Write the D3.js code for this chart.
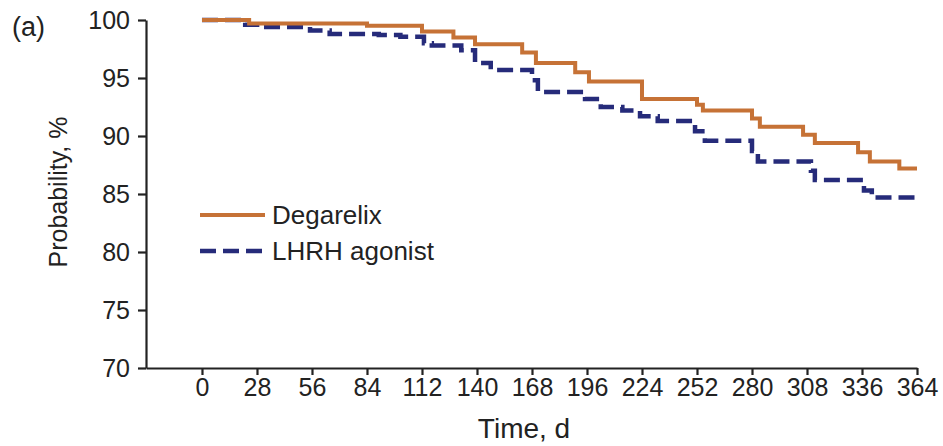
<!DOCTYPE html>
<html>
<head>
<meta charset="utf-8">
<script src="https://cdn.jsdelivr.net/npm/d3@7"></script>
<style>
  body { margin: 0; background: #fff; }
  text { font-family: "Liberation Sans", Arial, sans-serif; fill: #222; }
  .axis path, .axis line { stroke: #222; stroke-width: 2.2; }
  .axis text { font-size: 25px; fill: #222; }
</style>
</head>
<body>
<svg width="943" height="446"></svg>
<script>
// Kaplan-Meier style step data
var degDays = [0, 24, 84, 112, 128, 139, 163, 170, 190, 197, 224, 252, 255, 280, 284, 306, 312, 334, 340, 355, 364];
var degProb = [100, 99.7, 99.5, 99.0, 98.5, 97.9, 97.2, 96.3, 95.5, 94.7, 93.2, 92.7, 92.2, 91.5, 90.8, 90.1, 89.4, 88.6, 87.8, 87.2, 87.2];

var lhrhDays = [0, 22, 31, 55, 65, 90, 101, 113, 117, 132, 139, 147, 168, 171, 195, 203, 214, 223, 232, 251, 256, 280, 283, 310, 312, 337, 341, 364];
var lhrhProb = [100, 99.6, 99.4, 99.1, 98.8, 98.7, 98.55, 98.0, 97.8, 97.4, 96.3, 95.7, 94.8, 93.8, 93.2, 92.5, 92.2, 91.7, 91.3, 90.4, 89.6, 88.7, 87.8, 87.0, 86.2, 85.3, 84.7, 84.7];

var xTicks = [0, 28, 56, 84, 112, 140, 168, 196, 224, 252, 280, 308, 336, 364];
var yTicks = [70, 75, 80, 85, 90, 95, 100];

var seriesNames = ["Degarelix", "LHRH agonist"];
var seriesColors = ["#c67236", "#262b7a"];

var svg = d3.select("svg");

var x = d3.scaleLinear().domain([-28.5, 364]).range([146, 917]);
var y = d3.scaleLinear().domain([70, 100]).range([368, 20]);

svg.append("g")
  .attr("class", "axis")
  .attr("transform", "translate(0,368)")
  .call(d3.axisBottom(x).tickValues(xTicks).tickSize(7).tickSizeOuter(0).tickPadding(3));

svg.append("g")
  .attr("class", "axis")
  .attr("transform", "translate(146,0)")
  .call(d3.axisLeft(y).tickValues(yTicks).tickSize(8).tickSizeOuter(0).tickPadding(8));

svg.selectAll(".axis .domain").attr("stroke-width", 2.4);

var line = d3.line()
  .x(function(d) { return x(d[0]); })
  .y(function(d) { return y(d[1]); })
  .curve(d3.curveStepAfter);

var lhrh = d3.zip(lhrhDays, lhrhProb);
var deg = d3.zip(degDays, degProb);

svg.append("path")
  .datum(lhrh)
  .attr("d", line)
  .attr("fill", "none")
  .attr("stroke", seriesColors[1])
  .attr("stroke-width", 4.5)
  .attr("stroke-dasharray", "16,7");

svg.append("path")
  .datum(deg)
  .attr("d", line)
  .attr("fill", "none")
  .attr("stroke", seriesColors[0])
  .attr("stroke-width", 4);

// legend
svg.append("line")
  .attr("x1", 200).attr("x2", 265).attr("y1", 215).attr("y2", 215)
  .attr("stroke", seriesColors[0]).attr("stroke-width", 4);
svg.append("line")
  .attr("x1", 200).attr("x2", 265).attr("y1", 251).attr("y2", 251)
  .attr("stroke", seriesColors[1]).attr("stroke-width", 4.5)
  .attr("stroke-dasharray", "16,7");
svg.append("text")
  .attr("x", 272).attr("y", 224)
  .style("font-size", "26px")
  .text(seriesNames[0]);
svg.append("text")
  .attr("x", 272).attr("y", 260)
  .style("font-size", "26px")
  .text(seriesNames[1]);

// titles
svg.append("text")
  .attr("x", 12).attr("y", 36)
  .style("font-size", "27px")
  .text("(a)");

svg.append("text")
  .attr("transform", "translate(67,192) rotate(-90)")
  .attr("text-anchor", "middle")
  .style("font-size", "25px")
  .text("Probability, %");

svg.append("text")
  .attr("x", 524).attr("y", 438)
  .attr("text-anchor", "middle")
  .style("font-size", "28px")
  .text("Time, d");
</script>
</body>
</html>
